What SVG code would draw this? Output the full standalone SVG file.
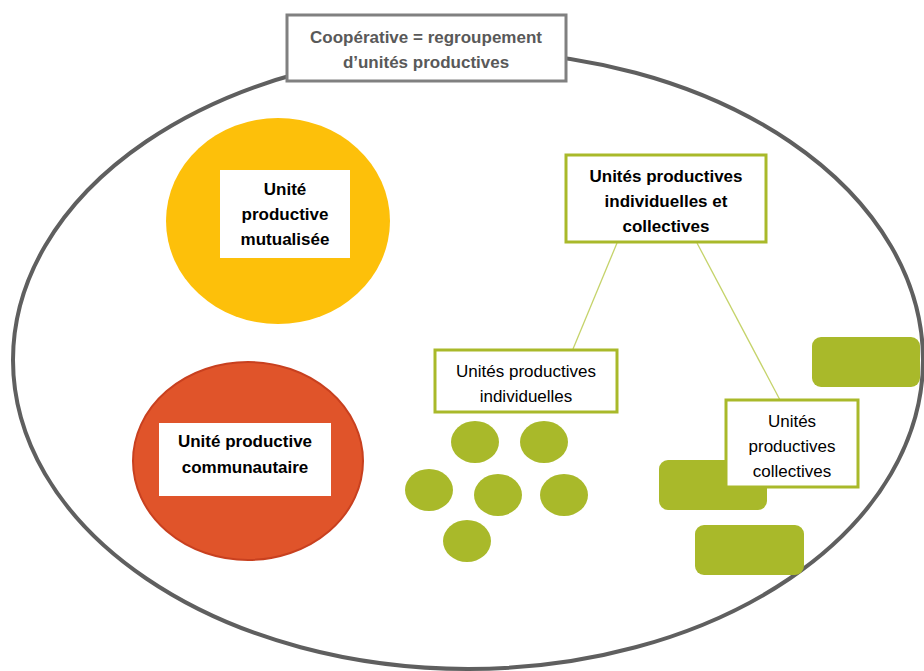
<svg xmlns="http://www.w3.org/2000/svg" width="924" height="671" viewBox="0 0 924 671">
<style>
text{font-family:"Liberation Sans",Arial,sans-serif;font-size:16px;text-anchor:middle;fill:#000}
.b{font-weight:bold;font-size:17px}
.n{font-size:17px}
.gbox{fill:#fff;stroke:#A9B92A;stroke-width:3}
.gfill{fill:#A9B92A}
.wbox{fill:#fff}
.conn{stroke:#C5D36A;stroke-width:1.3;fill:none}
</style>
<rect width="924" height="671" fill="#fff"/>
<g id="cooperative">
<ellipse cx="468" cy="360" rx="455" ry="309" fill="none" stroke="#5F5F5F" stroke-width="4"/>
</g>
<g id="title">
<rect x="287" y="15" width="279" height="66" fill="#fff" stroke="#808080" stroke-width="3"/>
<text class="b" x="426" y="43" style="fill:#595959">Coopérative = regroupement</text>
<text class="b" x="426" y="68" style="fill:#595959">d’unités productives</text>
</g>
<g id="mutualisee">
<ellipse cx="278" cy="221" rx="112" ry="103" fill="#FDC00A"/>
<rect class="wbox" x="220" y="170" width="130" height="88"/>
<text class="b" x="285" y="195">Unité</text>
<text class="b" x="285" y="220">productive</text>
<text class="b" x="285" y="245">mutualisée</text>
</g>
<g id="communautaire">
<ellipse cx="248" cy="461" rx="115" ry="99" fill="#E0542A" stroke="#C8401F" stroke-width="2"/>
<rect class="wbox" x="159" y="423" width="172" height="73"/>
<text class="b" x="245" y="447">Unité productive</text>
<text class="b" x="245" y="473">communautaire</text>
</g>
<g id="connectors">
<line class="conn" x1="617" y1="243" x2="573" y2="349"/>
<line class="conn" x1="697" y1="243" x2="780" y2="400"/>
</g>
<g id="ind-coll">
<rect class="gbox" x="566" y="155" width="200" height="87"/>
<text class="b" x="666" y="182">Unités productives</text>
<text class="b" x="666" y="207">individuelles et</text>
<text class="b" x="666" y="232">collectives</text>
</g>
<g id="individuelles">
<rect class="gbox" x="435" y="350" width="182" height="62"/>
<text class="n" x="526" y="377">Unités productives</text>
<text class="n" x="526" y="402">individuelles</text>
<ellipse class="gfill" cx="475" cy="442" rx="24" ry="21"/>
<ellipse class="gfill" cx="544" cy="442" rx="24" ry="21"/>
<ellipse class="gfill" cx="429" cy="490" rx="24" ry="21"/>
<ellipse class="gfill" cx="498" cy="495" rx="24" ry="21"/>
<ellipse class="gfill" cx="564" cy="495" rx="24" ry="21"/>
<ellipse class="gfill" cx="467" cy="541" rx="24" ry="21"/>
</g>
<g id="collectives">
<rect class="gfill" x="812" y="337" width="108" height="50" rx="9"/>
<rect class="gfill" x="659" y="460" width="108" height="50" rx="9"/>
<rect class="gfill" x="695" y="525" width="109" height="50" rx="9"/>
<rect class="gbox" x="726" y="400" width="132" height="87"/>
<text class="n" x="792" y="427">Unités</text>
<text class="n" x="792" y="452">productives</text>
<text class="n" x="792" y="477">collectives</text>
</g>
</svg>
